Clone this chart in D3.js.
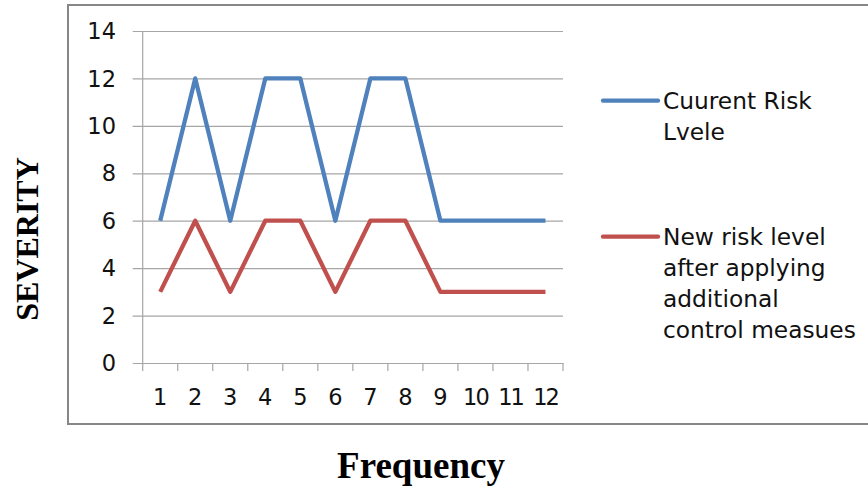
<!DOCTYPE html>
<html><head><meta charset="utf-8">
<script src="https://cdn.jsdelivr.net/npm/d3@7"></script>
<style>html,body{margin:0;padding:0;background:#fff;}svg{display:block;}</style>
</head><body>
<svg id="chart" width="868" height="488"></svg>
<script>
const categories = ["1","2","3","4","5","6","7","8","9","10","11","12"];
const currentRisk = [6,12,6,12,12,6,12,12,6,6,6,6];
const newRisk = [3,6,3,6,6,3,6,6,3,3,3,3];
const yTicks = [0,2,4,6,8,10,12,14];
const seriesNames = [["Cuurent Risk","Lvele"],["New risk level","after applying","additional","control measues"]];
const colors = ["#4F81BD","#C0504D"];

const svg = d3.select("#chart");
const plot = {left:142.7, right:563, top:31, bottom:363};

// outer frame
svg.append("rect").attr("x",68).attr("y",5).attr("width",830).attr("height",419)
  .attr("fill","none").attr("stroke","#878787").attr("stroke-width",2);

const x = d3.scaleBand().domain(categories).range([plot.left, plot.right]);
const y = d3.scaleLinear().domain([0,14]).range([plot.bottom, plot.top]);

// gridlines
const yAxis = d3.axisLeft(y).tickValues(yTicks).tickSize(-(plot.right-plot.left)).tickPadding(0).tickFormat("");
const gy = svg.append("g").attr("transform",`translate(${plot.left},0)`).call(yAxis);
gy.select(".domain").remove();
gy.selectAll(".tick line").attr("stroke","#a6a6a6").attr("stroke-width",1.2).attr("x1",-10);
// y labels
svg.append("g").selectAll("text").data(yTicks).join("text")
  .attr("x",116).attr("y",d=>y(d)).attr("dy","0.36em").attr("text-anchor","end")
  .attr("font-family","DejaVu Sans").attr("font-size",22.5).attr("fill","#111")
  .text(d=>d);

// y axis line
svg.append("line").attr("x1",plot.left).attr("x2",plot.left).attr("y1",plot.top).attr("y2",plot.bottom)
  .attr("stroke","#a6a6a6").attr("stroke-width",1.2);

// x axis
const xAxis = d3.axisBottom(x).tickSize(0).tickFormat("");
const gx = svg.append("g").attr("transform",`translate(0,${plot.bottom})`).call(xAxis);
gx.select(".domain").attr("stroke","#a6a6a6").attr("stroke-width",1.2);
gx.selectAll(".tick").remove();
const bounds = categories.map((c,i)=>x(c)).concat([plot.right]);
svg.append("g").selectAll("line").data(bounds).join("line")
  .attr("x1",d=>d).attr("x2",d=>d).attr("y1",plot.bottom).attr("y2",plot.bottom+8)
  .attr("stroke","#a6a6a6").attr("stroke-width",1.2);
svg.append("g").selectAll("text").data(categories).join("text")
  .attr("x",d=>x(d)+x.bandwidth()/2).attr("y",405).attr("text-anchor","middle")
  .attr("font-family","DejaVu Sans").attr("font-size",22.5).attr("fill","#111")
  .attr("letter-spacing",d=>d.length>1?"-2":"0")
  .text(d=>d);

// lines
const line = d3.line().x((d,i)=>x(categories[i])+x.bandwidth()/2).y(d=>y(d));
[currentRisk,newRisk].forEach((s,k)=>{
  svg.append("path").datum(s).attr("d",line).attr("fill","none")
    .attr("stroke",colors[k]).attr("stroke-width",4.3).attr("stroke-linejoin","round");
});

// legend
const legY = [100.7, 236.7];
seriesNames.forEach((lines,k)=>{
  svg.append("line").attr("x1",603).attr("x2",658).attr("y1",legY[k]).attr("y2",legY[k])
    .attr("stroke",colors[k]).attr("stroke-width",4.3).attr("stroke-linecap","round");
  const t = svg.append("text").attr("x",663).attr("y",legY[k]+8.5)
    .attr("font-family","DejaVu Sans").attr("font-size",23.3).attr("fill","#111");
  lines.forEach((ln,j)=>{
    t.append("tspan").attr("x",663).attr("dy",j===0?0:31).text(ln);
  });
});

// axis titles
svg.append("text").attr("x",421).attr("y",478).attr("text-anchor","middle")
  .attr("font-family","Liberation Serif").attr("font-weight","bold").attr("font-size",37).attr("fill","#000")
  .text("Frequency");
svg.append("text").attr("transform","translate(38,239) rotate(-90)").attr("text-anchor","middle")
  .attr("font-family","Liberation Serif").attr("font-weight","bold").attr("font-size",32).attr("fill","#000")
  .text("SEVERITY");
</script>
</body></html>
